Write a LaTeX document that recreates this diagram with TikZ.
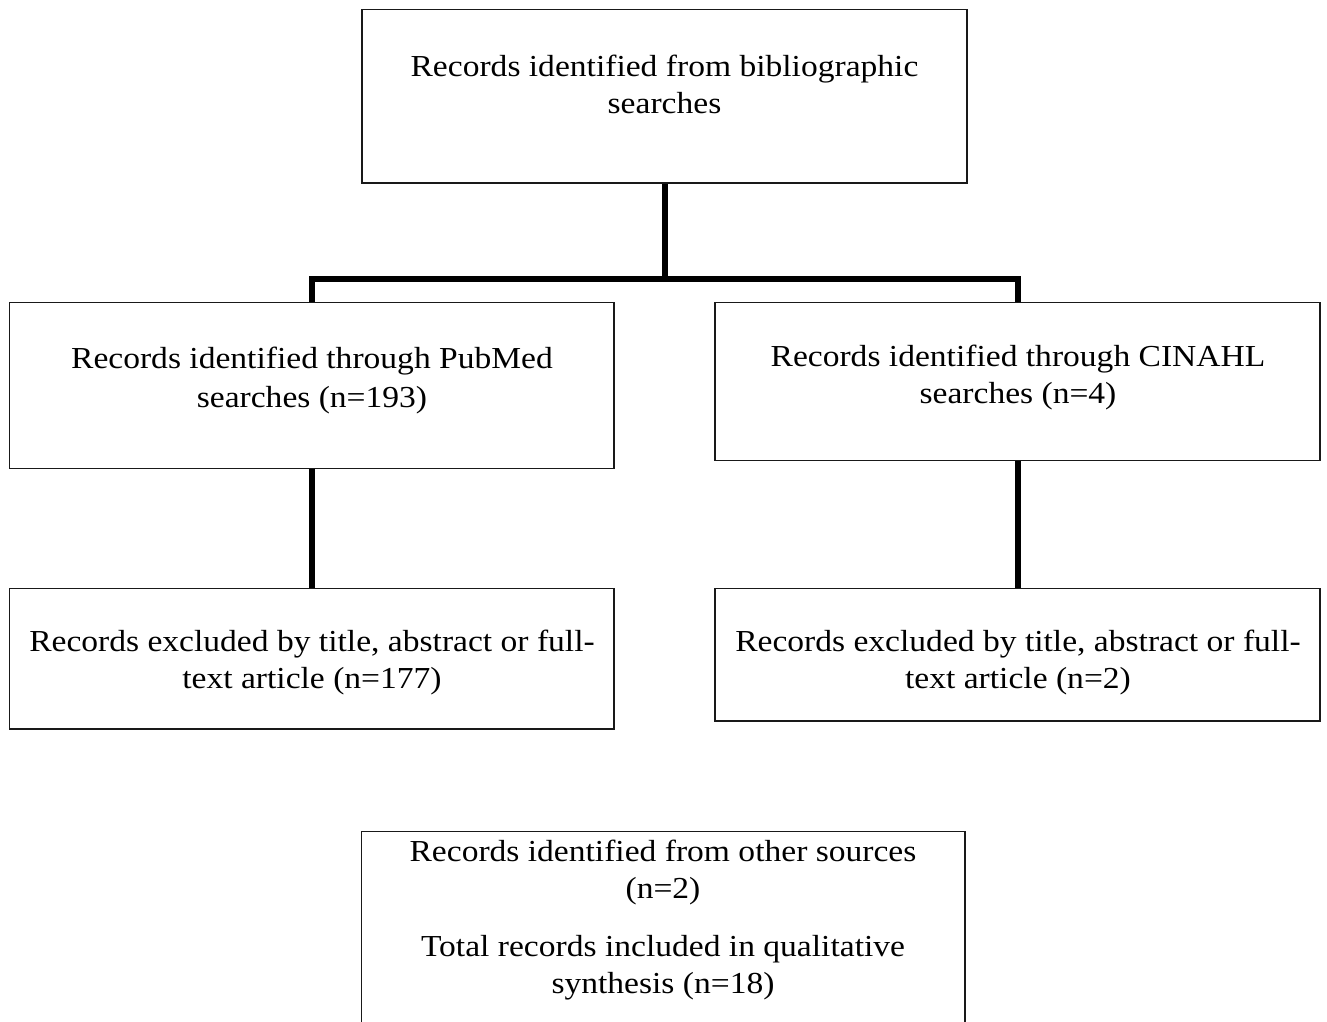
\documentclass[tikz,border=0pt]{standalone}
\usepackage{fontspec}
\setmainfont{Liberation Serif}[FakeStretch=1.1]
\newcommand\lnstrut{\rule[-11pt]{0pt}{34pt}}
\begin{document}
\begin{tikzpicture}[x=1pt,y=1pt,
  box/.style={draw=black!90, line width=1.8pt, inner sep=0pt, fill=none},
  txt/.style={align=center, inner sep=0pt, anchor=north,
    font=\fontsize{30.5}{37}\selectfont},
  conn/.style={draw=black, line width=6pt, line join=miter}]
\fill[white] (0,0) rectangle (1327,-1021);
\useasboundingbox (0,0) rectangle (1327,-1021);
% boxes
\node[box, minimum width=605pt, minimum height=173.5pt] (top) at (664.5,-96.25) {};
\node[box, minimum width=604.5pt, minimum height=166pt] (pub) at (311.75,-385.5) {};
\node[box, minimum width=605pt, minimum height=158pt] (cin) at (1017.5,-381.5) {};
\node[box, minimum width=604.5pt, minimum height=140.5pt] (exl) at (311.75,-658.75) {};
\node[box, minimum width=605pt, minimum height=132.5pt] (exr) at (1017.5,-654.75) {};
\node[box, minimum width=603.5pt, minimum height=268.5pt] (bot) at (663.25,-965.75) {};
% texts
\node[txt] (toptxt) at (664.5,-53) {Records identified from bibliographic\lnstrut\\searches\lnstrut};
\node[txt] (pubtxt) at (312,-345.5) {Records identified through PubMed\lnstrut\\[2pt]searches (n=193)\lnstrut};
\node[txt] (cintxt) at (1018,-343) {Records identified through CINAHL\lnstrut\\searches (n=4)\lnstrut};
\node[txt] (exltxt) at (312,-628) {Records excluded by title, abstract or full-\lnstrut\\text article (n=177)\lnstrut};
\node[txt] (exrtxt) at (1018,-628) {Records excluded by title, abstract or full-\lnstrut\\text article (n=2)\lnstrut};
\node[txt] (bottxt) at (663,-838.7) {Records identified from other sources\lnstrut\\(n=2)\lnstrut\\[20.7pt]Total records included in qualitative\lnstrut\\synthesis (n=18)\lnstrut};
% connectors
\coordinate (j) at (664.5,-279);
\draw[conn] (top.south) -- (j);
\draw[conn] (pub.north) |- (j) -| (cin.north);
\draw[conn] (pub.south) -- (exl.north);
\draw[conn] (cin.south) -- (exr.north);
\end{tikzpicture}
\end{document}
